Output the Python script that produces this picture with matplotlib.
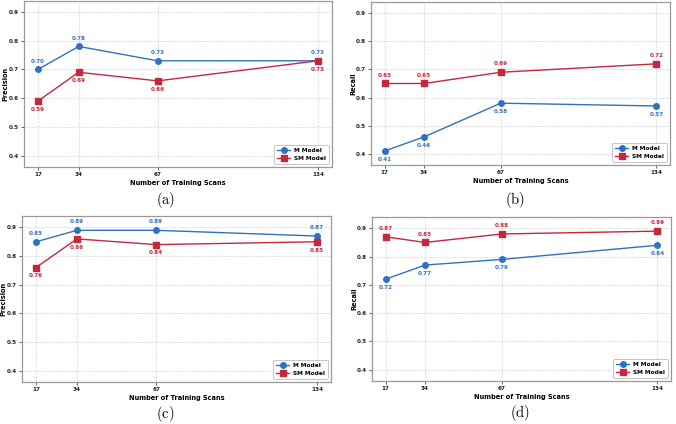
import matplotlib
matplotlib.use("Agg")
import matplotlib.pyplot as plt

scans = [17, 34, 67, 134]
a_m = [0.70, 0.78, 0.73, 0.73]
a_sm = [0.59, 0.69, 0.66, 0.73]
b_m = [0.41, 0.46, 0.58, 0.57]
b_sm = [0.65, 0.65, 0.69, 0.72]
c_m = [0.85, 0.89, 0.89, 0.87]
c_sm = [0.76, 0.86, 0.84, 0.85]
d_m = [0.72, 0.77, 0.79, 0.84]
d_sm = [0.87, 0.85, 0.88, 0.89]
yticks = [0.4, 0.5, 0.6, 0.7, 0.8, 0.9]
series_names = ["M Model", "SM Model"]

BLUE = "#2f72c0"
RED = "#c3283d"

plt.rcParams['mathtext.fontset'] = 'cm'
W, H = 676, 424
fig = plt.figure(figsize=(W / 100, H / 100), dpi=100)


def px(l, t, r, b):
    return [l / W, 1 - b / H, (r - l) / W, (b - t) / H]


panels = [
    (px(24, 0.5, 332, 167), a_m, a_sm, "Precision", True, "(a)", (166, 200)),
    (px(371, 2, 670, 165), b_m, b_sm, "Recall", False, "(b)", (515, 200)),
    (px(22, 216, 331, 382), c_m, c_sm, "Precision", True, "(c)", (165, 414)),
    (px(372, 217, 671, 381), d_m, d_sm, "Recall", False, "(d)", (520, 413)),
]

for rect, m, sm, ylab, m_above, cap, cpos in panels:
    ax = fig.add_axes(rect)
    ax.plot(scans, m, color=BLUE, marker='o', markersize=4.0, lw=1.0, label=series_names[0])
    ax.plot(scans, sm, color=RED, marker='s', markersize=4.0, lw=1.0, label=series_names[1])
    for x, v in zip(scans, m):
        off = 6 if m_above else -6
        ax.annotate(f"{v:.2f}", (x, v), xytext=(0, off), textcoords='offset points',
                    ha='center', va='center', fontsize=4.1, fontweight='bold', color=BLUE)
    for x, v in zip(scans, sm):
        off = -6 if m_above else 6
        ax.annotate(f"{v:.2f}", (x, v), xytext=(0, off), textcoords='offset points',
                    ha='center', va='center', fontsize=4.1, fontweight='bold', color=RED)
    ax.set_ylim(0.36, 0.94)
    ax.set_yticks(yticks)
    ax.set_xticks(scans)
    ax.set_xticklabels([str(s) for s in scans])
    ax.tick_params(labelsize=4.1, length=2, width=0.5, pad=1.5, colors='#222222')
    for lbl in ax.get_xticklabels() + ax.get_yticklabels():
        lbl.set_fontweight('bold')
    ax.set_xlabel("Number of Training Scans", fontsize=4.8, fontweight='bold', labelpad=2)
    ax.set_ylabel(ylab, fontsize=4.8, fontweight='bold')
    ax.yaxis.set_label_coords(-0.05, 0.5)
    ax.grid(True, color='#cccccc', lw=0.5, linestyle='--', alpha=0.8)
    for s in ax.spines.values():
        s.set_color('#999999')
        s.set_linewidth(0.9)
    leg = ax.legend(loc='lower right', prop={'weight': 'bold', 'size': 4.2},
                    frameon=True, fancybox=True, edgecolor='#bbbbbb', framealpha=1,
                    handlelength=2.2, borderpad=0.5, labelspacing=0.5, handletextpad=0.6,
                    borderaxespad=0.6)
    leg.get_frame().set_linewidth(0.6)
    fig.text(cpos[0] / W, 1 - cpos[1] / H, r'$\mathrm{' + cap + '}$', ha='center', va='center',
             fontsize=10.5)

fig.savefig("out.png", dpi=100)
